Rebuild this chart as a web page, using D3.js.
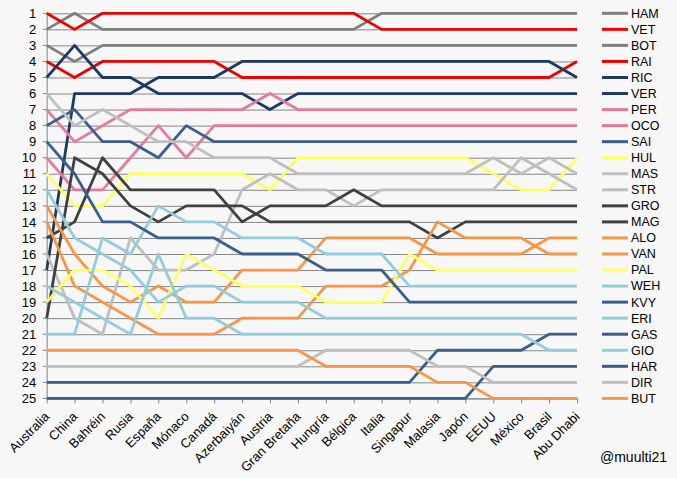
<!DOCTYPE html>
<html>
<head>
<meta charset="utf-8">
<script src="https://cdn.jsdelivr.net/npm/d3@7"></script>
<style>
  html, body { margin: 0; padding: 0; background: #f7f7f7; }
  svg { display: block; font-family: "Liberation Sans", Arial, sans-serif; }
</style>
</head>
<body>
<svg id="chart" width="677" height="478"></svg>
<script>
// Race calendar (category axis)
const races = ["Australia", "China", "Bahréin", "Rusia", "España", "Mónaco", "Canadá", "Azerbaiyán",
  "Austria", "Gran Bretaña", "Hungría", "Bélgica", "Italia", "Singapur", "Malasia", "Japón",
  "EEUU", "México", "Brasil", "Abu Dhabi"];

// Championship position after each race
const ham = [2, 1, 2, 2, 2, 2, 2, 2, 2, 2, 2, 2, 1, 1, 1, 1, 1, 1, 1, 1];
const vet = [1, 2, 1, 1, 1, 1, 1, 1, 1, 1, 1, 1, 2, 2, 2, 2, 2, 2, 2, 2];
const bot = [3, 4, 3, 3, 3, 3, 3, 3, 3, 3, 3, 3, 3, 3, 3, 3, 3, 3, 3, 3];
const rai = [4, 5, 4, 4, 4, 4, 4, 5, 5, 5, 5, 5, 5, 5, 5, 5, 5, 5, 5, 4];
const ric = [17, 6, 6, 6, 5, 5, 5, 4, 4, 4, 4, 4, 4, 4, 4, 4, 4, 4, 4, 5];
const ver = [5, 3, 5, 5, 6, 6, 6, 6, 7, 6, 6, 6, 6, 6, 6, 6, 6, 6, 6, 6];
const per = [7, 9, 8, 7, 7, 7, 7, 7, 6, 7, 7, 7, 7, 7, 7, 7, 7, 7, 7, 7];
const oco = [10, 12, 12, 10, 8, 10, 8, 8, 8, 8, 8, 8, 8, 8, 8, 8, 8, 8, 8, 8];
const sai = [8, 7, 9, 9, 10, 8, 9, 9, 9, 9, 9, 9, 9, 9, 9, 9, 9, 9, 9, 9];
const hul = [11, 13, 13, 11, 11, 11, 11, 11, 12, 10, 10, 10, 10, 10, 10, 10, 11, 12, 12, 10];
const mas = [6, 8, 7, 8, 9, 9, 10, 10, 10, 11, 11, 11, 11, 11, 11, 11, 10, 11, 10, 11];
const str = [16, 20, 21, 15, 17, 17, 16, 12, 11, 12, 12, 13, 12, 12, 12, 12, 12, 10, 11, 12];
const gro = [15, 14, 10, 12, 12, 12, 12, 14, 13, 13, 13, 12, 13, 13, 13, 13, 13, 13, 13, 13];
const mag = [20, 10, 11, 13, 14, 13, 13, 13, 14, 14, 14, 14, 14, 14, 15, 14, 14, 14, 14, 14];
const alo = [13, 16, 18, 19, 18, 19, 19, 17, 17, 17, 15, 15, 15, 15, 16, 16, 16, 16, 15, 15];
const van = [14, 18, 19, 20, 21, 21, 21, 20, 20, 20, 18, 18, 18, 17, 14, 15, 15, 15, 16, 16];
const pal = [19, 17, 17, 18, 20, 16, 17, 18, 18, 18, 19, 19, 19, 16, 17, 17, 17, 17, 17, 17];
const weh = [21, 21, 15, 16, 13, 14, 14, 15, 15, 15, 16, 16, 16, 18, 18, 18, 18, 18, 18, 18];
const kvy = [9, 11, 14, 14, 15, 15, 15, 16, 16, 16, 17, 17, 17, 19, 19, 19, 19, 19, 19, 19];
const eri = [12, 15, 16, 17, 19, 18, 18, 19, 19, 19, 20, 20, 20, 20, 20, 20, 20, 20, 20, 20];
const gas = [24, 24, 24, 24, 24, 24, 24, 24, 24, 24, 24, 24, 24, 24, 22, 22, 22, 22, 21, 21];
const gio = [18, 19, 20, 21, 16, 20, 20, 21, 21, 21, 21, 21, 21, 21, 21, 21, 21, 21, 22, 22];
const har = [25, 25, 25, 25, 25, 25, 25, 25, 25, 25, 25, 25, 25, 25, 25, 25, 23, 23, 23, 23];
const dir = [23, 23, 23, 23, 23, 23, 23, 23, 23, 23, 22, 22, 22, 22, 23, 23, 24, 24, 24, 24];
const but = [22, 22, 22, 22, 22, 22, 22, 22, 22, 22, 23, 23, 23, 23, 24, 24, 25, 25, 25, 25];

// Legend order = final standings
const drivers = ["HAM", "VET", "BOT", "RAI", "RIC", "VER", "PER", "OCO", "SAI", "HUL", "MAS", "STR",
  "GRO", "MAG", "ALO", "VAN", "PAL", "WEH", "KVY", "ERI", "GAS", "GIO", "HAR", "DIR", "BUT"];
const positions = [ham, vet, bot, rai, ric, ver, per, oco, sai, hul, mas, str,
  gro, mag, alo, van, pal, weh, kvy, eri, gas, gio, har, dir, but];
const rowTicks = d3.range(1, 26);

// Team colours
const colors = {
  HAM: "#7f7f7f", BOT: "#7f7f7f",
  VET: "#ee0000", RAI: "#ee0000",
  RIC: "#1f3864", VER: "#1f3864",
  PER: "#e8799c", OCO: "#e8799c",
  SAI: "#3b5e8c", KVY: "#3b5e8c", GAS: "#3b5e8c", HAR: "#3b5e8c",
  HUL: "#ffff66", PAL: "#ffff66",
  MAS: "#bfbfbf", STR: "#bfbfbf", DIR: "#bfbfbf",
  GRO: "#404040", MAG: "#404040",
  ALO: "#f79646", VAN: "#f79646", BUT: "#f79646",
  WEH: "#92cddc", ERI: "#92cddc", GIO: "#92cddc"
};

const svg = d3.select("#chart");
const margin = { left: 46.7, right: 100, top: 13.3, bottom: 79.6 };
const W = 677, H = 478;

const x = d3.scalePoint()
  .domain(races)
  .range([margin.left, W - margin.right]);

const y = d3.scaleLinear()
  .domain([1, 25])
  .range([margin.top, H - margin.bottom]);

// Horizontal gridlines + left axis labels
const yAxis = svg.append("g")
  .attr("transform", `translate(${margin.left},0)`)
  .call(d3.axisLeft(y).tickValues(rowTicks).tickFormat(d3.format("d"))
    .tickSize(-(x.range()[1] - x.range()[0])).tickSizeOuter(0));
yAxis.select(".domain").attr("stroke", "#868686");
yAxis.selectAll(".tick line").attr("stroke", "#868686").attr("stroke-width", 1);
yAxis.selectAll(".tick text")
  .attr("x", -10.5)
  .attr("font-size", "13px")
  .attr("fill", "#000");

// small outer ticks on the left
svg.append("g")
  .selectAll("line")
  .data(rowTicks)
  .enter()
  .append("line")
  .attr("x1", margin.left - 4)
  .attr("x2", margin.left)
  .attr("y1", d => y(d))
  .attr("y2", d => y(d))
  .attr("stroke", "#868686");

// Bottom category axis
const xAxis = svg.append("g")
  .attr("transform", `translate(0,${y(25)})`)
  .call(d3.axisBottom(x).tickSize(5).tickSizeOuter(0));
xAxis.select(".domain").attr("stroke", "#868686");
xAxis.selectAll(".tick line").attr("stroke", "#868686");
xAxis.selectAll(".tick text")
  .attr("font-size", "13px")
  .attr("fill", "#000")
  .attr("text-anchor", "end")
  .attr("dy", null)
  .attr("y", 0)
  .attr("transform", "translate(3,19) rotate(-45)");

// Driver lines (first series at the bottom, like Excel)
const line = d3.line()
  .x((d, i) => x(races[i]))
  .y(d => y(d));

const series = drivers.map((code, i) => ({ code: code, values: positions[i] }));

svg.append("g")
  .selectAll("path")
  .data(series)
  .enter()
  .append("path")
  .attr("d", d => line(d.values))
  .attr("fill", "none")
  .attr("stroke", d => colors[d.code])
  .attr("stroke-width", 2.8)
  .attr("stroke-linejoin", "round");

// Legend, one entry per row
const legend = svg.append("g")
  .selectAll("g")
  .data(series)
  .enter()
  .append("g")
  .attr("transform", (d, i) => `translate(602,${y(i + 1)})`);

legend.append("line")
  .attr("x1", 0)
  .attr("x2", 26)
  .attr("stroke", d => colors[d.code])
  .attr("stroke-width", 3);

legend.append("text")
  .attr("x", 29)
  .attr("dy", "0.35em")
  .attr("font-size", "12.5px")
  .attr("fill", "#000")
  .text(d => d.code);

// credit
svg.append("text")
  .attr("x", 600)
  .attr("y", 462)
  .attr("font-size", "14px")
  .attr("fill", "#000")
  .text("@muulti21");
</script>
</body>
</html>
